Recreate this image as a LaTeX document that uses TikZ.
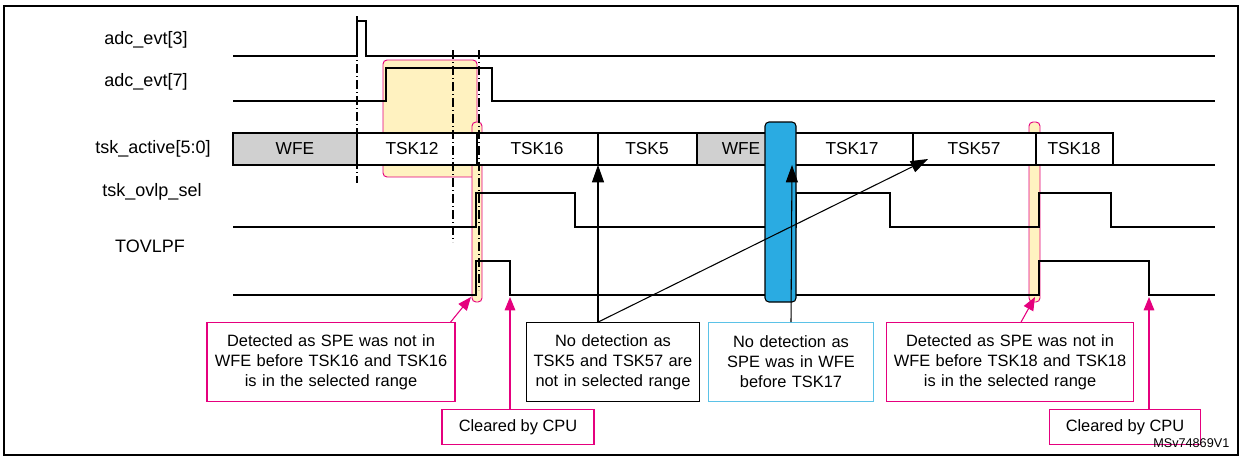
\documentclass[tikz,border=0pt]{standalone}
\usepackage{fontspec}
\setmainfont{Liberation Sans}
\usetikzlibrary{arrows.meta}
\definecolor{pinkc}{HTML}{E5007E}
\definecolor{yel}{HTML}{FFF2C0}
\definecolor{bluec}{HTML}{2AABE2}
\definecolor{cyanb}{HTML}{5BC2E7}
\definecolor{grayc}{HTML}{D0D0D0}
\begin{document}
\begin{tikzpicture}[x=0.75pt,y=-0.75pt,
  sig/.style={line width=0.8pt},
  lbl/.style={font=\fontsize{13.5}{15}\selectfont, anchor=center},
  dd/.style={line width=0.8pt, dash pattern=on 7pt off 2pt on 1pt off 2pt},
  note/.style={draw, line width=0.8pt, fill=white, align=center, font=\fontsize{12.3}{15}\selectfont, inner sep=2pt, minimum height=59pt},
  pnote/.style={note, draw=pinkc},
  parr/.style={pinkc, line width=0.8pt, -{Triangle[length=10pt,width=8pt]}},
  barr/.style={black, line width=0.8pt, -{Triangle[length=13pt,width=9pt]}}]
\useasboundingbox (0,0) rectangle (1242,457);
\draw[line width=1pt] (3,6) -- (1239,6);
\draw[line width=1pt] (4,6) -- (4,455) -- (1238,455) -- (1238,6);
% highlight regions
\draw[pinkc, fill=yel, rounded corners=3pt, line width=0.7pt] (383,60) rectangle (477,177);
\draw[pinkc, fill=yel, rounded corners=3pt, line width=0.7pt] (472,122) rectangle (482,302);
\draw[pinkc, fill=yel, rounded corners=3pt, line width=0.7pt] (1029,122) rectangle (1040,302);
% labels
\node[lbl] (l1) at (146,40) {adc\_evt[3]};
\node[lbl] (l2) at (146,82) {adc\_evt[7]};
\node[lbl] (l3) at (153,149) {tsk\_active[5:0]};
\node[lbl] (l4) at (152,192) {tsk\_ovlp\_sel};
\node[lbl] (l5) at (150,246) {TOVLPF};
% signals
\draw[sig] (233,56) -- (357,56) -- (357,21) -- (366,21) -- (366,56) -- (1215,56);
\draw[sig] (233,101) -- (386,101) -- (386,68) -- (492,68) -- (492,101) -- (1215,101);
\draw[sig] (233,227) -- (476,227) -- (476,193) -- (575,193) -- (575,227) -- (796,227) -- (796,193) -- (890,193) -- (890,227) -- (1039,227) -- (1039,193) -- (1111,193) -- (1111,227) -- (1215,227);
\draw[sig] (233,295) -- (476,295) -- (476,261) -- (510,261) -- (510,295) -- (1039,295) -- (1039,261) -- (1149,261) -- (1149,295) -- (1215,295);
% tsk_active cells
\foreach \a/\b/\f in {233/357/grayc,357/477/white,477/598/white,598/697/white,697/792/grayc,792/913/white,913/1036/white,1036/1113/white}{
  \draw[line width=0.8pt, fill=\f] (\a,133) rectangle (\b,165);
}
\draw[line width=0.8pt] (1113,165) -- (1215,165);
\foreach \x/\t/\n in {295/WFE/c1,412/TSK12/c2,537/TSK16/c3,647/TSK5/c4,741/WFE/c5,852/TSK17/c6,974/TSK57/c7,1074/TSK18/c8}{
  \node[font=\fontsize{13}{15}\selectfont] (\n) at (\x,149) {\t};
}
% dash-dot lines
\draw[dd] (357,16) -- (357,183);
\draw[dd] (453,50) -- (453,242);
\draw[dd] (479,50) -- (479,290);
% blue bar
\draw[fill=bluec, rounded corners=3pt, line width=0.8pt] (765,122) rectangle (796,302);
% notes
\node[pnote, text width=182pt] (n1) at (331,362) {Detected as SPE was not in\\WFE before TSK16 and TSK16\\is in the selected range};
\node[pnote, minimum width=114pt, minimum height=26pt] (n2) at (518,427) {Cleared by CPU};
\node[note, text width=126pt] (n3) at (613,362) {No detection as\\TSK5 and TSK57 are\\not in selected range};
\node[note, draw=cyanb, text width=120pt] (n4) at (791,362) {No detection as\\SPE was in WFE\\before TSK17};
\node[pnote, text width=181pt] (n5) at (1010,362) {Detected as SPE was not in\\WFE before TSK18 and TSK18\\is in the selected range};
\node[pnote, minimum width=113pt, minimum height=26pt] (n6) at (1125,427) {Cleared by CPU};
\coordinate (t1) at (471,297);
\coordinate (t2) at (510,297);
\coordinate (t3) at (598,165);
\coordinate (t4) at (928,159);
\coordinate (t5) at (792,165);
\coordinate (t6) at (1035,297);
\coordinate (t7) at (1149,297);
\draw[parr] (n1.north east) ++(-5,0) -- (t1);
\draw[parr] (n2.north -| t2) -- (t2);
\draw[barr] (n3.north -| t3) -- (t3);
\draw[barr] (n3.north -| t3) -- (t4);
\draw[barr] (n4.north) -- (t5);
\draw[parr] (n5.north) ++(11,0) -- (t6);
\draw[parr] (n6.north -| t7) -- (t7);
\node[font=\fontsize{9.5}{10}\selectfont, anchor=east] (id) at (1234,443) {MSv74869V1};
\end{tikzpicture}
\end{document}
